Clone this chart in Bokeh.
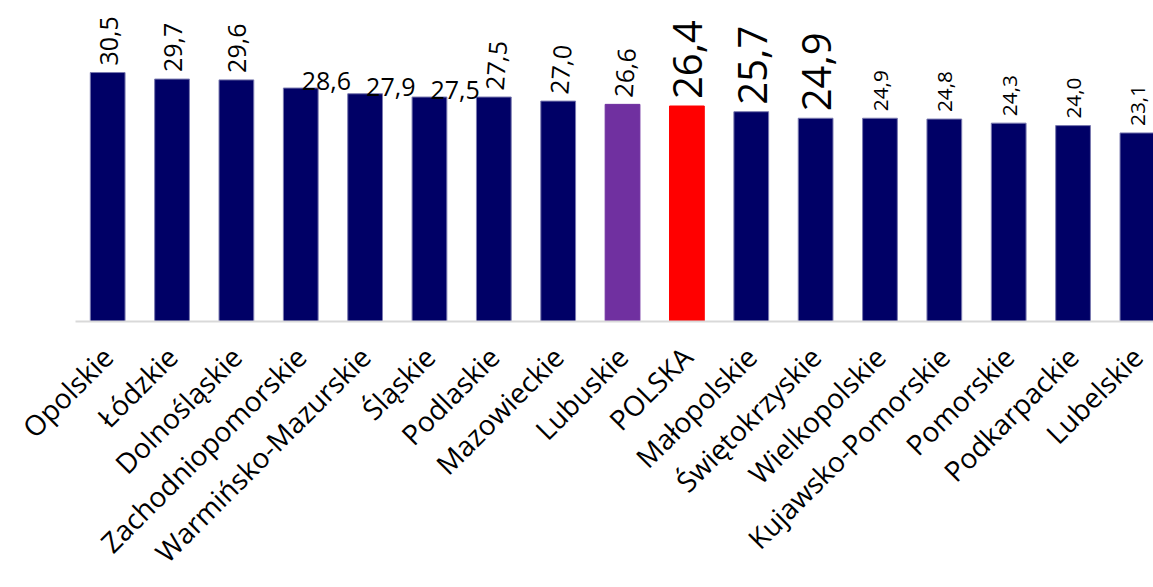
import math
from bokeh.plotting import figure
from bokeh.models import ColumnDataSource, Range1d, Label
from bokeh.core.properties import value
from bokeh.embed import file_html
from bokeh.resources import INLINE

regions = ["Opolskie", "Łódzkie", "Dolnośląskie", "Zachodniopomorskie",
           "Warmińsko-Mazurskie", "Śląskie", "Podlaskie", "Mazowieckie",
           "Lubuskie", "POLSKA", "Małopolskie", "Świętokrzyskie",
           "Wielkopolskie", "Kujawsko-Pomorskie", "Pomorskie", "Podkarpackie",
           "Lubelskie"]
values = [30.5, 29.7, 29.6, 28.6, 27.9, 27.5, 27.5, 27.0, 26.6, 26.4,
          25.7, 24.9, 24.9, 24.8, 24.3, 24.0, 23.1]

NAVY = "#000066"
special = {"Lubuskie": "#7030A0", "POLSKA": "#FF0000"}
fills = [special.get(r, NAVY) for r in regions]
edges = [special.get(r, "#7a7ab0") for r in regions]

xs = list(range(len(regions)))
vlabels = [f"{v:.1f}".replace(".", ",") for v in values]
src = ColumnDataSource(dict(x=xs, top=values, fill=fills, edge=edges))

p = figure(width=1153, height=587, output_backend="svg", toolbar_location=None,
           x_range=Range1d(-0.5, 16.25), y_range=Range1d(0, 38.1),
           min_border_left=75, min_border_right=0, min_border_top=10,
           min_border_bottom=266)
p.outline_line_color = None
p.xgrid.visible = False
p.ygrid.visible = False
p.yaxis.visible = False
p.background_fill_color = "white"
p.border_fill_color = "white"

p.vbar(x="x", top="top", bottom=0, width=0.54, source=src,
       fill_color="fill", line_color="edge", line_width=1)

ax = p.xaxis[0]
ax.axis_line_color = "#d9d9d9"
ax.axis_line_width = 2
ax.major_tick_line_color = None
ax.minor_tick_line_color = None
ax.ticker = xs
ax.major_label_overrides = {i: r for i, r in enumerate(regions)}
ax.major_label_orientation = math.pi / 4
ax.major_label_standoff = 24
ax.major_label_text_font = "Open Sans"
ax.major_label_text_font_size = "28px"
ax.major_label_text_color = "black"

for xi, v, t in zip(xs, values, vlabels):
    if xi < 3:
        ang, fs = math.pi / 2, "25px"
    elif xi < 6:
        ang, fs = 0.0, "25px"
    elif xi < 9:
        ang, fs = 1.5, "25px"
    elif xi < 12:
        ang, fs = math.pi / 2, "40px"
    else:
        ang, fs = math.pi / 2, "1.6em"
    p.add_layout(Label(x=xi, y=v, text=t, angle=ang,
                       text_align="left", text_baseline="middle",
                       y_offset=7, x_offset=1,
                       text_font="Open Sans", text_font_size=fs,
                       text_color="black"))

open("out.html", "w").write(file_html(p, INLINE))
